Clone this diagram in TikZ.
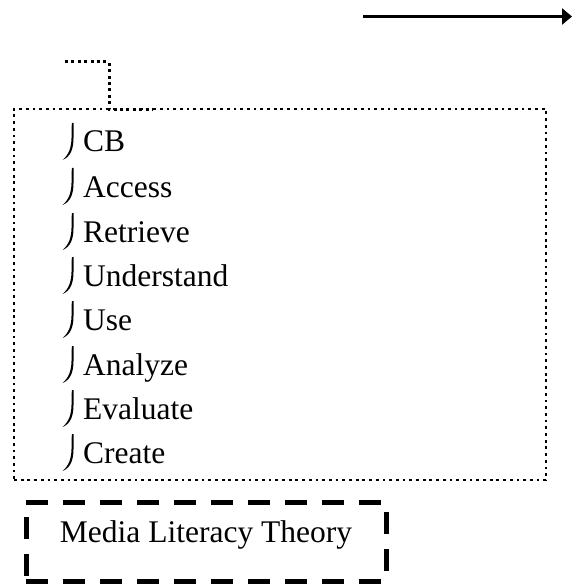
\documentclass[tikz,border=0pt]{standalone}
\usepackage{fontspec}
\setmainfont{Liberation Serif}
\usetikzlibrary{arrows.meta}
\tikzset{
  itemtext/.style={anchor=base west, inner sep=0pt, font=\fontsize{31.5}{38}\selectfont},
  dotbox/.style={draw, line width=2.8pt, dash pattern=on 2.8pt off 3.9pt, inner sep=0pt},
  dotlink/.style={draw, line width=3pt, dash pattern=on 3pt off 3.4pt},
  dashbox/.style={draw, line width=5pt, dash pattern=on 22pt off 15pt, inner sep=0pt,
    minimum width=360pt, minimum height=79pt, text height=10pt, text depth=9pt,
    font=\fontsize{31.5}{38}\selectfont},
  mainarrow/.style={line width=3.8pt, -{Triangle[length=10pt,width=16pt]}},
  hookm/.pic={
    \fill (73.5,-29) -- (73.5,-14) .. controls (73.5,-2) and (70,5) .. (62.5,8)
      .. controls (68.6,3) and (71.3,-4) .. (71.5,-14) -- (71.8,-29) -- cycle;
  }
}
\begin{document}
\begin{tikzpicture}[x=1pt,y=-1pt]
\useasboundingbox (0,0) rectangle (572,585);
% top arrow
\coordinate (astart) at (363,16.5);
\coordinate (aend) at (572,16.5);
\draw[mainarrow] (astart) -- (aend);
% dotted list box
\node[dotbox, minimum width=532pt, minimum height=371pt] (listbox) at (280,294.5) {};
% dotted connector
\coordinate (cstart) at (65,62);
\coordinate (cbend) at (109,62);
\coordinate (cend) at (152,109.5);
\draw[dotlink] (cstart) -- (cbend) -- (cbend |- cend) -- (cend);
% items
\foreach \n/\t/\b in {i1/CB/152, i2/Access/197, i3/Retrieve/242, i4/Understand/286,
                     i5/Use/330, i6/Analyze/375, i7/Evaluate/419, i8/Create/463}{
  \pic at (0,\b) {hookm};
  \node[itemtext] (\n) at (83,\b) {\t};
}
% media literacy theory
\node[dashbox] (mlt) at (206,541.5) {Media Literacy Theory};
\end{tikzpicture}
\end{document}
